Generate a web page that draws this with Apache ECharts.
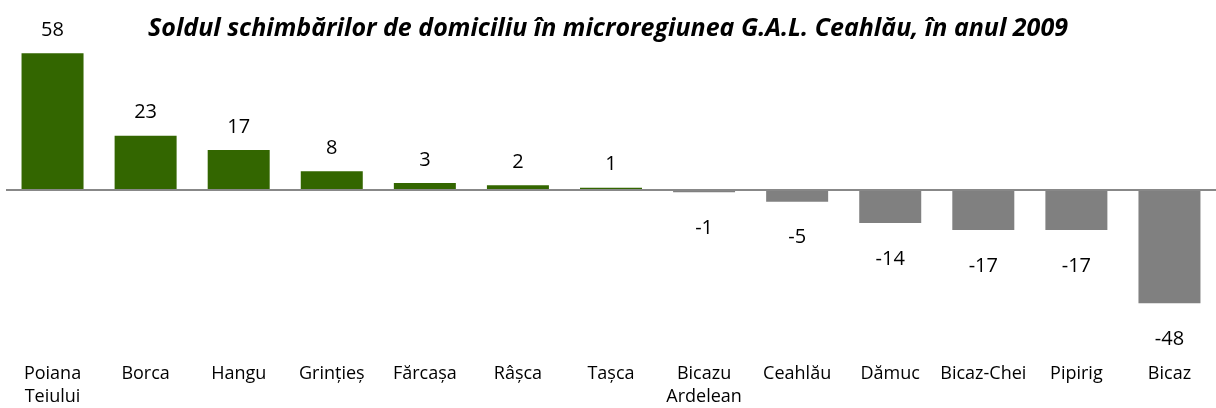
<!DOCTYPE html>
<html>
<head>
<meta charset="utf-8">
<script src="https://cdn.jsdelivr.net/npm/echarts@6/dist/echarts.min.js"></script>
<style>
  html, body { margin: 0; padding: 0; background: #fff; }
  #chart { width: 1216px; height: 408px; }
</style>
</head>
<body>
<div id="chart"></div>
<script>
var categories = ['Poiana\nTeiului', 'Borca', 'Hangu', 'Grințieș', 'Fărcașa', 'Râșca', 'Tașca',
                  'Bicazu\nArdelean', 'Ceahlău', 'Dămuc', 'Bicaz-Chei', 'Pipirig', 'Bicaz'];
var values = [58, 23, 17, 8, 3, 2, 1, -1, -5, -14, -17, -17, -48];

var green = '#336600';
var gray = '#808080';

// culoarea si pozitia etichetei depind de semn
var barData = values.map(function (v) {
    return {
        value: v,
        itemStyle: { color: v >= 0 ? green : gray },
        label: { position: v >= 0 ? 'top' : 'bottom', distance: v >= 0 ? 13 : 26 }
    };
});

var myChart = echarts.init(document.getElementById('chart'));

var option = {
    animation: false,
    title: {
        text: 'Soldul schimbărilor de domiciliu în microregiunea G.A.L. Ceahlău, în anul 2009',
        left: 'center',
        top: 11,
        textStyle: {
            fontFamily: 'Open Sans',
            fontSize: 25,
            fontStyle: 'italic',
            fontWeight: 'bold',
            color: '#000'
        }
    },
    grid: { left: 6, right: -8, top: 25, bottom: 49 },
    xAxis: {
        type: 'category',
        data: categories,
        axisLine: { show: false, onZero: false },
        axisTick: { show: false },
        axisLabel: {
            interval: 0,
            margin: 7,
            fontFamily: 'Open Sans',
            fontSize: 18,
            lineHeight: 23,
            color: '#000'
        }
    },
    yAxis: {
        type: 'value',
        min: -70,
        max: 70,
        show: false
    },
    series: [{
        type: 'bar',
        data: barData,
        barWidth: 62,
        label: {
            show: true,
            fontFamily: 'Open Sans',
            fontSize: 20,
            color: '#000'
        },
        markLine: {
            silent: true,
            symbol: 'none',
            label: { show: false },
            lineStyle: { color: '#888888', type: 'solid', width: 2 },
            data: [{ yAxis: 0 }]
        }
    }]
};

myChart.setOption(option);
</script>
</body>
</html>
